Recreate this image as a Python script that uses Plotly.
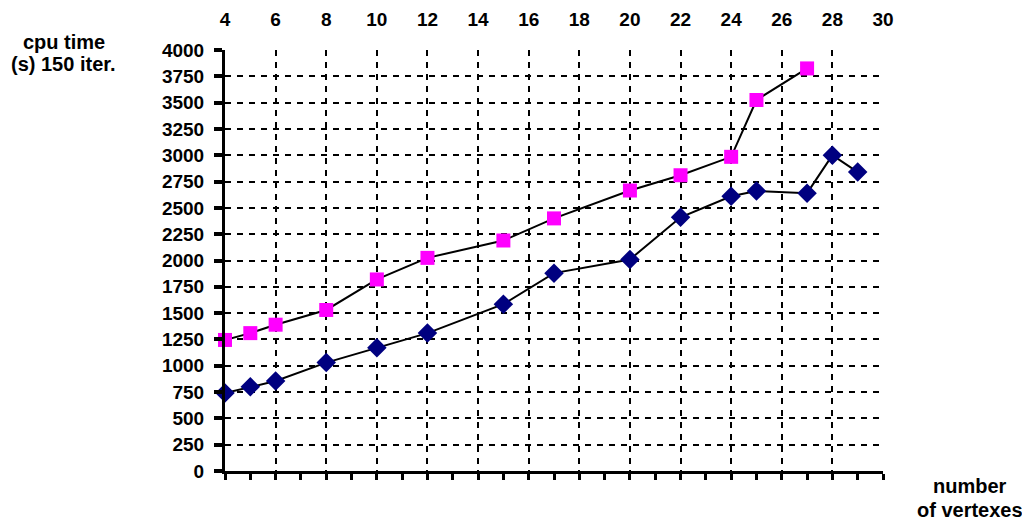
import plotly.graph_objects as go

# Data
vertexes_a = [4, 5, 6, 8, 10, 12, 15, 17, 20, 22, 24, 25, 27, 28, 29]
cpu_a = [740, 800, 855, 1030, 1170, 1310, 1585, 1880, 2010, 2410, 2610, 2660, 2640, 3000, 2840]

vertexes_b = [4, 5, 6, 8, 10, 12, 15, 17, 20, 22, 24, 25, 27]
cpu_b = [1245, 1310, 1390, 1530, 1820, 2025, 2190, 2400, 2665, 2810, 2985, 3525, 3825]

x_tick_labels = [4, 6, 8, 10, 12, 14, 16, 18, 20, 22, 24, 26, 28, 30]
y_tick_values = list(range(0, 4001, 250))

FONT = "Liberation Sans, Arial, sans-serif"
FS = 19
FA = 20

fig = go.Figure()

fig.add_trace(go.Scatter(
    x=vertexes_b, y=cpu_b, mode="lines+markers",
    line=dict(color="black", width=2),
    marker=dict(symbol="square", size=14, color="#FF00FF"),
    cliponaxis=False, showlegend=False))

fig.add_trace(go.Scatter(
    x=vertexes_a, y=cpu_a, mode="lines+markers",
    line=dict(color="black", width=2),
    marker=dict(symbol="diamond", size=15, color="#000080"),
    cliponaxis=False, showlegend=False))

# dummy trace for the bottom axis
fig.add_trace(go.Scatter(x=[4, 30], y=[None, None], xaxis="x2", yaxis="y",
                         showlegend=False, hoverinfo="skip", mode="lines"))


def label(text, x, y):
    return dict(text="<b>" + text + "</b>", xref="paper", yref="paper",
                x=x, y=y, xanchor="center", yanchor="middle", showarrow=False,
                font=dict(family=FONT, size=FA, color="black"))


fig.update_layout(
    width=1022, height=519,
    margin=dict(l=217, r=147, t=42, b=56),
    paper_bgcolor="white", plot_bgcolor="white",
    font=dict(family=FONT, size=FS, color="black"),
    xaxis=dict(
        side="top", range=[4, 30], tickmode="array", tickvals=x_tick_labels,
        ticktext=[str(v) for v in x_tick_labels],
        tickfont=dict(family=FONT, size=FS, color="black", weight="bold"),
        showgrid=True, gridcolor="black", gridwidth=2, griddash="6px,6px",
        showline=False, zeroline=False, ticks="", ticklabelstandoff=19,
        automargin=False,
    ),
    xaxis2=dict(
        overlaying="x", side="bottom", range=[4, 30], tickmode="linear",
        tick0=4, dtick=1, ticks="outside", ticklen=6, tickwidth=3,
        tickcolor="black", showline=True, linewidth=3, linecolor="black",
        showticklabels=False, showgrid=False, zeroline=False, automargin=False,
    ),
    yaxis=dict(
        range=[0, 4000], tickmode="array", tickvals=y_tick_values,
        tickfont=dict(family=FONT, size=FS, color="black", weight="bold"),
        showgrid=True, gridcolor="black", gridwidth=2, griddash="6px,6px",
        showline=True, linewidth=3, linecolor="black", zeroline=False,
        ticks="outside", ticklen=8, tickwidth=4, tickcolor="black",
        ticklabelstandoff=6, automargin=False,
    ),
    annotations=[
        label("cpu time", -0.2447, 1.019),
        label("(s) 150 iter.", -0.2447, 0.967),
        label("number", 1.1315, -0.0356),
        label("of vertexes", 1.1315, -0.0926),
    ],
)

fig.write_html("out.html")
